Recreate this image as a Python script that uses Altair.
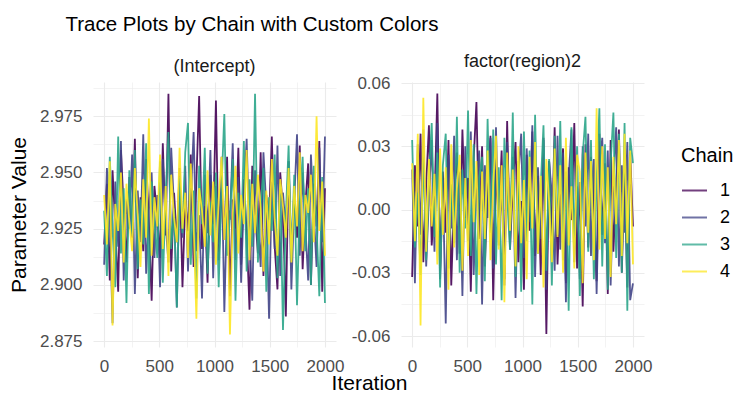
import altair as alt
import pandas as pd

chains = ["1", "2", "3", "4"]
colors = ["#440154", "#414487", "#2BA58A", "#FDE725"]
params = ["(Intercept)", "factor(region)2"]

# iteration positions of the sampled draws (80 per chain)
iterations = [round(1 + i * 1999 / 79) for i in range(80)]

int_c1 = [2.918, 2.945, 2.902, 2.951, 2.926, 2.897, 2.960, 2.934, 2.910, 2.948,
          2.921, 2.965, 2.903, 2.939, 2.915, 2.956, 2.928, 2.893, 2.944, 2.930,
          2.912, 2.963, 2.922, 2.985, 2.906, 2.941, 2.919, 2.952, 2.899, 2.937,
          2.924, 2.958, 2.908, 2.946, 2.984, 2.916, 2.935, 2.901, 2.949, 2.927,
          2.982, 2.911, 2.943, 2.920, 2.957, 2.895, 2.938, 2.925, 2.961, 2.909,
          2.947, 2.923, 2.889, 2.953, 2.932, 2.914, 2.959, 2.904, 2.940, 2.929,
          2.966, 2.917, 2.898, 2.950, 2.933, 2.886, 2.955, 2.913, 2.942, 2.921,
          2.962, 2.907, 2.936, 2.954, 2.900, 2.945, 2.926, 2.964, 2.897, 2.943]
int_c2 = [2.909, 2.952, 2.930, 2.883, 2.946, 2.917, 2.964, 2.902, 2.938, 2.925,
          2.958, 2.896, 2.942, 2.919, 2.967, 2.905, 2.933, 2.950, 2.912, 2.940,
          2.899, 2.956, 2.927, 2.910, 2.961, 2.934, 2.890, 2.947, 2.921, 2.953,
          2.906, 2.939, 2.968, 2.915, 2.931, 2.894, 2.949, 2.923, 2.960, 2.903,
          2.944, 2.918, 2.957, 2.888, 2.936, 2.929, 2.963, 2.911, 2.948, 2.901,
          2.940, 2.965, 2.920, 2.893, 2.951, 2.928, 2.908, 2.959, 2.935, 2.885,
          2.946, 2.916, 2.962, 2.904, 2.941, 2.924, 2.955, 2.898, 2.937, 2.967,
          2.913, 2.950, 2.926, 2.902, 2.958, 2.932, 2.908, 2.961, 2.919, 2.966]
int_c3 = [2.933, 2.904, 2.957, 2.925, 2.899, 2.966, 2.914, 2.943, 2.892, 2.951,
          2.922, 2.960, 2.907, 2.938, 2.918, 2.963, 2.896, 2.946, 2.929, 2.912,
          2.955, 2.901, 2.940, 2.968, 2.916, 2.934, 2.890, 2.948, 2.923, 2.959,
          2.972, 2.909, 2.942, 2.894, 2.953, 2.927, 2.961, 2.905, 2.937, 2.919,
          2.950, 2.899, 2.944, 2.976, 2.913, 2.930, 2.956, 2.893, 2.941, 2.921,
          2.964, 2.906, 2.947, 2.917, 2.985, 2.910, 2.935, 2.952, 2.897, 2.939,
          2.924, 2.958, 2.903, 2.945, 2.880, 2.931, 2.962, 2.911, 2.949, 2.891,
          2.936, 2.957, 2.915, 2.943, 2.900, 2.953, 2.927, 2.895, 2.948, 2.892]
int_c4 = [2.940, 2.918, 2.955, 2.882, 2.936, 2.924, 2.950, 2.910, 2.945, 2.928,
          2.915, 2.952, 2.931, 2.908, 2.947, 2.921, 2.974, 2.913, 2.939, 2.926,
          2.958, 2.916, 2.944, 2.904, 2.949, 2.930, 2.919, 2.961, 2.925, 2.941,
          2.912, 2.954, 2.927, 2.885, 2.943, 2.933, 2.917, 2.951, 2.922, 2.946,
          2.909, 2.938, 2.957, 2.920, 2.944, 2.878, 2.932, 2.953, 2.914, 2.940,
          2.927, 2.960, 2.911, 2.945, 2.923, 2.949, 2.934, 2.906, 2.942, 2.918,
          2.956, 2.929, 2.913, 2.947, 2.935, 2.921, 2.952, 2.910, 2.944, 2.926,
          2.959, 2.915, 2.940, 2.932, 2.949, 2.919, 2.975, 2.924, 2.946, 2.913]

reg_c1 = [-0.032, 0.021, -0.008, 0.036, -0.025, 0.012, 0.040, -0.017, 0.003, 0.055,
          -0.029, 0.018, -0.011, 0.033, -0.036, 0.007, 0.027, -0.021, 0.038, -0.004,
          0.015, -0.039, 0.024, 0.051, -0.014, 0.030, -0.027, 0.009, 0.035, -0.043,
          0.019, -0.006, 0.028, -0.033, 0.042, -0.019, 0.011, 0.032, -0.025, 0.004,
          -0.038, 0.026, -0.010, 0.037, -0.022, 0.016, -0.031, 0.034, -0.059, 0.023,
          -0.013, 0.039, -0.026, 0.008, 0.029, -0.035, 0.020, -0.005, 0.041, -0.028,
          0.013, -0.046, 0.031, -0.018, 0.025, 0.002, -0.034, 0.036, -0.012, 0.022,
          -0.040, 0.033, -0.020, 0.010, 0.038, -0.030, 0.017, -0.037, 0.027, -0.008]
reg_c2 = [0.019, -0.035, 0.031, -0.012, 0.038, -0.027, 0.006, 0.033, -0.020, 0.041,
          -0.033, 0.014, -0.054, 0.026, -0.009, 0.035, -0.024, 0.018, -0.041, 0.030,
          -0.015, 0.037, -0.031, 0.010, 0.028, -0.045, 0.021, -0.004, 0.034, -0.028,
          0.039, -0.017, 0.012, -0.036, 0.032, -0.010, 0.025, -0.042, 0.016, 0.036,
          -0.023, 0.029, -0.006, 0.040, -0.032, 0.020, -0.014, 0.033, -0.038, 0.023,
          0.007, -0.029, 0.035, -0.019, 0.027, -0.044, 0.015, 0.038, -0.025, 0.011,
          -0.033, 0.030, -0.008, 0.036, -0.022, 0.024, -0.040, 0.019, 0.034, -0.016,
          0.028, -0.036, 0.013, 0.039, -0.027, 0.021, -0.011, 0.032, -0.043, -0.035]
reg_c3 = [0.033, -0.018, 0.008, -0.031, 0.029, -0.024, 0.016, 0.041, -0.013, 0.027,
          -0.037, 0.021, 0.036, -0.028, 0.012, -0.016, 0.044, -0.030, 0.019, -0.009,
          0.047, -0.022, 0.031, -0.040, 0.015, 0.025, -0.034, 0.043, -0.011, 0.038,
          -0.026, 0.020, -0.043, 0.034, 0.006, -0.019, 0.046, -0.032, 0.023, -0.039,
          0.037, -0.015, 0.028, -0.045, 0.045, -0.021, 0.011, 0.040, -0.029, 0.024,
          -0.036, 0.035, -0.012, 0.042, -0.024, 0.018, -0.048, 0.039, -0.017, 0.030,
          -0.041, 0.026, 0.044, -0.020, 0.033, -0.033, 0.014, 0.048, -0.027, 0.031,
          -0.038, 0.022, 0.046, -0.023, 0.036, -0.030, 0.041, -0.048, 0.034, 0.022]
reg_c4 = [0.022, -0.015, 0.036, -0.055, 0.053, -0.020, 0.024, -0.008, 0.017, -0.026,
          0.029, -0.012, 0.020, -0.038, 0.031, -0.018, 0.010, 0.026, -0.029, 0.015,
          -0.022, 0.033, -0.006, 0.023, -0.031, 0.018, -0.014, 0.028, -0.024, 0.012,
          0.035, -0.019, 0.021, -0.044, 0.027, -0.010, 0.019, -0.027, 0.030, -0.016,
          0.014, -0.033, 0.025, -0.009, 0.032, -0.021, 0.016, -0.037, 0.024, 0.004,
          -0.025, 0.029, -0.013, 0.021, -0.030, 0.034, -0.017, 0.011, -0.028, 0.026,
          0.018, -0.035, 0.027, -0.011, 0.023, -0.024, 0.048, -0.019, 0.030, -0.014,
          0.020, -0.032, 0.025, -0.007, 0.033, -0.022, 0.036, -0.016, 0.028, -0.026]

series = {
    "(Intercept)": [int_c1, int_c2, int_c3, int_c4],
    "factor(region)2": [reg_c1, reg_c2, reg_c3, reg_c4],
}

rows = []
for p in params:
    for ch, vals in zip(chains, series[p]):
        for it, v in zip(iterations, vals):
            rows.append({"param": p, "chain": ch, "iteration": it, "value": v})
df = pd.DataFrame(rows)

FONT = "Liberation Sans"
x_values = [0, 250, 500, 750, 1000, 1250, 1500, 1750, 2000]
x_minor = "datum.value % 500 != 0"

left_y_values = [2.875, 2.8875, 2.9, 2.9125, 2.925, 2.9375, 2.95, 2.9625, 2.975, 2.9875]
left_minor = "abs((datum.value - 2.875) / 0.025 - round((datum.value - 2.875) / 0.025)) > 0.1"
right_y_values = [-0.06, -0.045, -0.03, -0.015, 0.0, 0.015, 0.03, 0.045, 0.06]
right_minor = "abs(datum.value / 0.03 - round(datum.value / 0.03)) > 0.1"


def panel(p, ydomain, yvalues, yminor, yfmt, ytitle, xtitle):
    xaxis_kwargs = dict(
        values=x_values,
        labelExpr=f"{x_minor} ? '' : datum.label",
        format="d",
        grid=True,
        gridColor="#ebebeb",
        gridWidth={"condition": {"test": x_minor, "value": 0.6}, "value": 1.1},
        domain=False,
        ticks=False,
        labelFlush=False,
        labelOverlap=False,
        labelPadding=11,
        labelFont=FONT,
        labelFontSize=17,
        labelColor="#4d4d4d",
    )
    if xtitle:
        xaxis_kwargs.update(title=xtitle, titleFont=FONT, titleFontSize=21,
                            titleFontWeight="normal", titleColor="#000000",
                            titleX=276, titleY=42, titleBaseline="alphabetic",
                            titleAlign="center")
    else:
        xaxis_kwargs.update(title=None)

    yaxis_kwargs = dict(
        values=yvalues,
        labelExpr=f"{yminor} ? '' : replace(format(datum.value, '{yfmt}'), '\u2212', '-')",
        grid=True,
        gridColor="#ebebeb",
        gridWidth={"condition": {"test": yminor, "value": 0.6}, "value": 1.1},
        domain=False,
        ticks=False,
        labelFlush=False,
        labelOverlap=False,
        labelPadding=11,
        labelFont=FONT,
        labelFontSize=17,
        labelColor="#4d4d4d",
    )
    if ytitle:
        yaxis_kwargs.update(title=ytitle, titleFont=FONT, titleFontSize=21,
                            titleFontWeight="normal", titleColor="#000000",
                            titlePadding=10)
    else:
        yaxis_kwargs.update(title=None)

    base = alt.Chart(df).transform_filter(alt.datum.param == p)
    layers = []
    for ch in chains:
        layers.append(
            base.transform_filter(alt.datum.chain == ch)
            .mark_line(strokeWidth=1.8, opacity=0.9)
            .encode(
                x=alt.X("iteration:Q",
                        scale=alt.Scale(domain=[-100, 2100], nice=False, zero=False),
                        axis=alt.Axis(**xaxis_kwargs)),
                y=alt.Y("value:Q",
                        scale=alt.Scale(domain=ydomain, nice=False, zero=False),
                        axis=alt.Axis(**yaxis_kwargs)),
                color=alt.Color(
                    "chain:N",
                    scale=alt.Scale(domain=chains, range=colors),
                    legend=alt.Legend(
                        title="Chain", orient="none", legendX=588, legendY=64,
                        titleFont=FONT, titleFontSize=20, titleFontWeight="normal",
                        titleColor="#000000", titlePadding=11,
                        labelFont=FONT, labelFontSize=18, labelColor="#000000",
                        labelOffset=12,
                        symbolType="stroke", symbolSize=625, symbolStrokeWidth=2,
                        symbolOpacity=0.75, rowPadding=4,
                    ),
                ),
            )
        )
    return alt.layer(*layers).properties(
        width=243,
        height=265,
        title=alt.TitleParams(p, font=FONT, fontSize=18, fontWeight="normal",
                              color="#1a1a1a", offset=3, anchor="middle"),
    )


left = panel("(Intercept)", [2.8724, 2.9902], left_y_values, left_minor, ".3f",
             "Parameter Value", "Iteration")
right = panel("factor(region)2", [-0.0652, 0.0605], right_y_values, right_minor, ".2f",
              None, None)

chart = (
    alt.hconcat(left, right, spacing=65, bounds="flush")
    .resolve_scale(y="independent")
    .properties(
        title=alt.TitleParams("Trace Plots by Chain with Custom Colors", font=FONT,
                              fontSize=20.5, fontWeight="normal", color="#000000",
                              anchor="start", dx=57, offset=18),
        padding={"left": 0, "top": 6, "right": 0, "bottom": 0},
        background="white",
    )
    .configure_view(stroke=None)
)

chart.save("out.html", embed_options={"renderer": "svg", "actions": False})
